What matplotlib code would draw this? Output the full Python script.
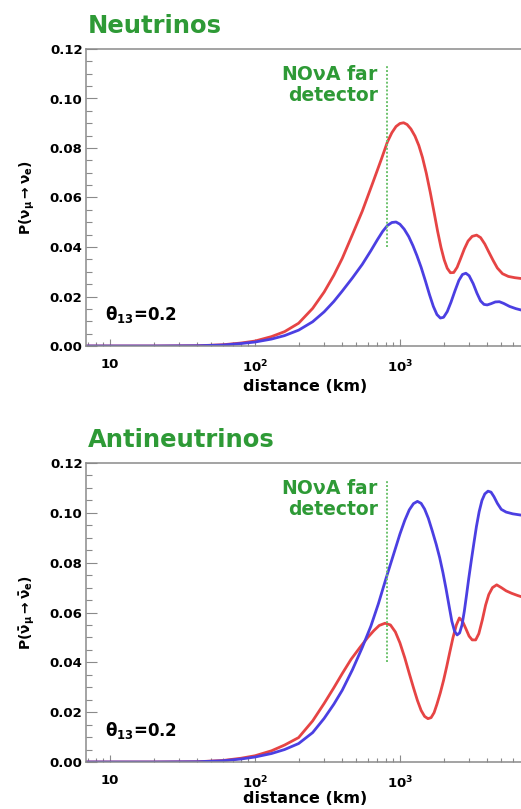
import matplotlib
matplotlib.use('Agg')
import matplotlib.pyplot as plt
from matplotlib.ticker import FixedLocator, MultipleLocator, LogLocator, FuncFormatter, NullFormatter

# ---- data (distance in km, probability) ----
nu_red_km = [7, 20, 40, 60, 80, 100, 130, 160, 200, 250, 300, 350, 400, 470, 550, 650, 750,
             820, 880, 940, 1000, 1060, 1120, 1190, 1270, 1350, 1430, 1520, 1620, 1720, 1820,
             1920, 2020, 2120, 2230, 2350, 2480, 2620, 2780, 2950, 3150, 3380, 3600, 3850,
             4100, 4400, 4700, 5100, 5600, 6200, 7000]
nu_red = [0.0, 0.0, 0.0001, 0.0005, 0.0012, 0.002, 0.0038, 0.0058, 0.0092, 0.0152, 0.0218,
          0.0286, 0.0354, 0.045, 0.0545, 0.066, 0.076, 0.0825, 0.0862, 0.0887, 0.0899,
          0.0902, 0.0895, 0.0877, 0.0848, 0.081, 0.0762, 0.0698, 0.062, 0.054, 0.0463,
          0.0398, 0.0348, 0.0314, 0.0296, 0.0297, 0.0318, 0.0353, 0.0392, 0.0424, 0.0443,
          0.0448, 0.0438, 0.0412, 0.038, 0.0345, 0.0315, 0.0292, 0.0281, 0.0276, 0.0272]

nu_blue_km = [7, 20, 40, 60, 80, 100, 130, 160, 200, 250, 300, 350, 400, 470, 550, 630, 700,
              760, 820, 880, 940, 1000, 1070, 1150, 1230, 1310, 1400, 1500, 1600, 1700, 1800,
              1900, 2000, 2120, 2250, 2400, 2550, 2700, 2850, 3000, 3200, 3400, 3600, 3800,
              4000, 4250, 4550, 4850, 5200, 5700, 6300, 7000]
nu_blue = [0.0, 0.0, 0.0001, 0.0004, 0.001, 0.0016, 0.0028, 0.0042, 0.0064, 0.0098, 0.0138,
           0.018, 0.0222, 0.0275, 0.033, 0.0385, 0.043, 0.0463, 0.0487, 0.0499, 0.0501,
           0.0492, 0.0472, 0.0442, 0.0405, 0.0365, 0.0318, 0.0262, 0.0207, 0.016, 0.0127,
           0.0113, 0.0116, 0.0139, 0.0177, 0.0224, 0.0265, 0.0289, 0.0294, 0.0284, 0.0252,
           0.0213, 0.0182, 0.0168, 0.0166, 0.0171, 0.0178, 0.0179, 0.0172, 0.016, 0.0151,
           0.0144]

anu_red_km = [7, 20, 40, 60, 80, 100, 130, 160, 200, 250, 300, 350, 400, 460, 530, 600, 660,
              720, 790, 860, 930, 1000, 1080, 1160, 1240, 1320, 1400, 1480, 1560, 1640, 1720,
              1800, 1900, 2000, 2100, 2200, 2320, 2450, 2570, 2700, 2850, 3000, 3150, 3330,
              3500, 3700, 3900, 4100, 4350, 4650, 5000, 5400, 5900, 6500, 7000]
anu_red = [0.0, 0.0, 0.0001, 0.0006, 0.0015, 0.0025, 0.0045, 0.0068, 0.0098, 0.0165, 0.0235,
           0.0298, 0.0355, 0.0412, 0.046, 0.050, 0.0527, 0.0548, 0.0557, 0.055, 0.0522,
           0.0478, 0.0418, 0.0355, 0.0298, 0.0247, 0.0207, 0.0183, 0.0174, 0.0178, 0.0198,
           0.0232, 0.0278, 0.0328, 0.0382, 0.0437, 0.0498, 0.055, 0.0578, 0.0565, 0.0535,
           0.0505, 0.049, 0.049, 0.0515, 0.057, 0.063, 0.0672, 0.070, 0.0711, 0.070, 0.0687,
           0.0677, 0.0668, 0.0662]

anu_blue_km = [7, 20, 40, 60, 80, 100, 130, 160, 200, 250, 300, 350, 400, 470, 550, 630, 710,
               800, 900, 1000, 1080, 1160, 1240, 1320, 1400, 1480, 1570, 1670, 1780, 1880,
               1980, 2080, 2180, 2280, 2380, 2480, 2580, 2680, 2780, 2880, 2980, 3100, 3230,
               3370, 3520, 3680, 3850, 4050, 4250, 4450, 4700, 5000, 5400, 6000, 7000]
anu_blue = [0.0, 0.0, 0.0001, 0.0005, 0.0012, 0.002, 0.0034, 0.005, 0.0074, 0.0118, 0.0175,
            0.0232, 0.0288, 0.037, 0.046, 0.0545, 0.0635, 0.0735, 0.083, 0.0915, 0.097,
            0.1012, 0.1037, 0.1046, 0.1038, 0.1015, 0.0978, 0.0928, 0.0873, 0.082, 0.076,
            0.0695, 0.0628, 0.0565, 0.0525, 0.051, 0.0518, 0.055, 0.0605, 0.067, 0.0735,
            0.0805, 0.0875, 0.0945, 0.1005, 0.105, 0.1076, 0.1087, 0.1083, 0.1065, 0.1038,
            0.1014, 0.1003, 0.0996, 0.099]

nova_km = 810
nova_span = [0.04, 0.113]
theta_text = r'$\theta_{13}$=0.2'
titles = ['Neutrinos', 'Antineutrinos']
ylabels = [r'$\mathbf{P(\nu_{\mu}\rightarrow\nu_{e})}$',
           r'$\mathbf{P(\bar{\nu}_{\mu}\rightarrow\bar{\nu}_{e})}$']
x_ticks = [10, 100, 1000]
x_ticklabels = ['10', r'10$^{2}$', r'10$^{3}$']

RED = '#e64444'
BLUE = '#4b3fe2'
GREEN = '#2e9a36'
LGREEN = '#6cc26c'
GREY = '#8a8a8a'

plt.rcParams['font.family'] = 'DejaVu Sans'
plt.rcParams['font.weight'] = 'bold'
plt.rcParams['mathtext.default'] = 'regular'

W, H = 521, 809
fig = plt.figure(figsize=(W / 100, H / 100), dpi=100)


def tick_label(v, pos):
    k = int(round(v))
    return x_ticklabels[x_ticks.index(k)] if k in x_ticks else ''


def panel(top_px, bot_px, dist_r, red, dist_b, blue, title, ylabel, title_px, xlab_px):
    left, right = 86, 540
    ax = fig.add_axes([left / W, 1 - bot_px / H, (right - left) / W, (bot_px - top_px) / H])
    ax.plot(dist_r, red, color=RED, lw=2.0, solid_joinstyle='round')
    ax.plot(dist_b, blue, color=BLUE, lw=2.0, solid_joinstyle='round')
    ax.plot([nova_km, nova_km], nova_span, color=LGREEN, lw=1.4, ls=(0, (1, 1)))
    ax.set_xscale('log')
    ax.set_xlim(6.83, 9250)
    ax.set_ylim(0, 0.12)
    ax.xaxis.set_major_locator(FixedLocator(x_ticks))
    ax.xaxis.set_major_formatter(FuncFormatter(tick_label))
    ax.xaxis.set_minor_locator(LogLocator(base=10, subs=range(2, 10)))
    ax.xaxis.set_minor_formatter(NullFormatter())
    ax.yaxis.set_major_locator(MultipleLocator(0.02))
    ax.yaxis.set_minor_locator(MultipleLocator(0.005))
    ax.yaxis.set_major_formatter(FuncFormatter(lambda v, p: '%.2f' % v))
    ax.tick_params(axis='y', which='major', direction='in', length=8, width=0.8, color=GREY,
                   labelsize=9.5, pad=2.5)
    ax.tick_params(axis='y', which='minor', direction='in', length=4, width=0.8, color=GREY)
    ax.tick_params(axis='x', which='major', direction='in', length=5, width=0.8, color=GREY,
                   labelsize=9.5, pad=9)
    ax.tick_params(axis='x', which='minor', direction='in', length=3, width=0.8, color=GREY)
    for lab in ax.get_xticklabels() + ax.get_yticklabels():
        lab.set_fontweight('bold')
    for s in ax.spines.values():
        s.set_color(GREY)
        s.set_linewidth(1.1)
    ax.text(9.2, 0.0105, theta_text, fontsize=12, fontweight='bold', ha='left', va='baseline')
    ax.text(708, 0.1135, 'NO$\\nu$A far\ndetector', color=GREEN, fontsize=13.5,
            fontweight='bold', ha='right', va='top', linespacing=1.15)
    fig.text(88 / W, 1 - title_px / H, title, color=GREEN, fontsize=17.5, fontweight='bold',
             ha='left', va='baseline')
    fig.text(27 / W, 1 - (top_px + bot_px) / 2 / H, ylabel, fontsize=10, rotation=90,
             ha='center', va='center')
    fig.text(305 / W, 1 - xlab_px / H, 'distance (km)', fontsize=11.5, fontweight='bold',
             ha='center', va='baseline')
    return ax


panel(49, 346, nu_red_km, nu_red, nu_blue_km, nu_blue, titles[0], ylabels[0], 33, 391)
panel(463, 762, anu_red_km, anu_red, anu_blue_km, anu_blue, titles[1], ylabels[1], 447, 803)

fig.savefig('out.png', dpi=100)
